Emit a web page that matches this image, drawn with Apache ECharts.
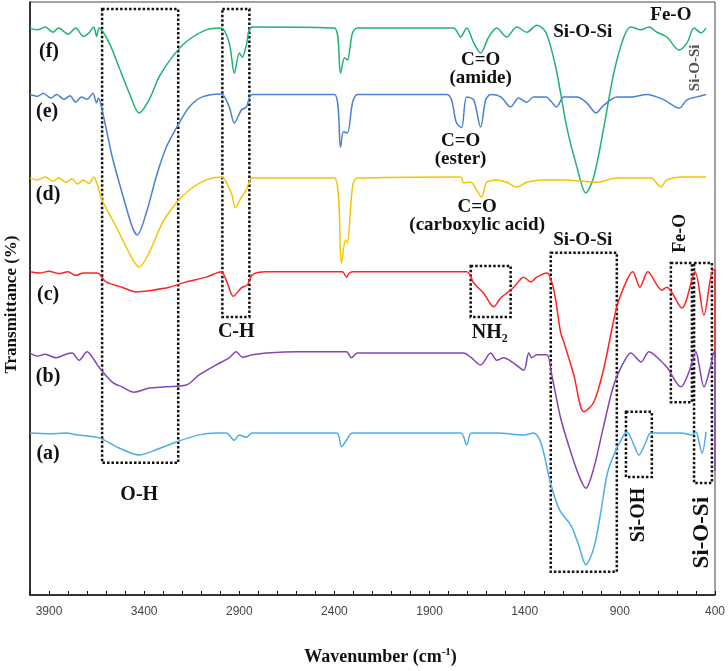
<!DOCTYPE html>
<html>
<head>
    <meta charset="UTF-8">
    <title>FTIR spectra</title>
    <script type="text/javascript" src="https://cdn.jsdelivr.net/npm/echarts@6/dist/echarts.min.js"></script>
    <style>
        html, body { margin: 0; padding: 0; background: #fff; }
        #main { width: 728px; height: 671px; }
    </style>
</head>
<body>
<div id="main"></div>
<script type="text/javascript">
    // spectra: [wavenumber, stacked transmittance]
    var traceF = [[4000,95.6],[3960,95.3],[3920,95.8],[3880,94.9],[3850,95.6],[3800,94.6],[3760,95.6],[3720,94.2],[3690,94.8],[3665,95.8],[3650,94.2],[3637,95.6],
        [3584,93.1],[3532,89.0],[3479,84.7],[3426,81.3],[3374,83.5],[3321,87.4],[3253,90.7],[3179,93.3],[3074,95.3],[2995,95.6],
        [2953,93.1],[2926,88.0],[2900,91.4],[2884,90.7],[2863,92.7],[2832,95.8],[2400,95.6],[2368,88.0],[2347,90.6],[2332,90.2],[2305,94.8],[2279,95.6],
        [1774,95.6],[1737,94.1],[1705,95.6],[1668,93.1],[1632,91.4],[1589,94.1],[1547,95.6],[1495,94.1],[1442,95.8],[1389,94.9],[1337,96.1],[1289,94.9],
        [1237,89.0],[1179,78.9],[1126,72.2],[1079,67.8],[1037,70.5],[984,78.9],[932,88.0],[879,94.1],[842,95.8],[789,95.3],[747,95.8],[705,94.9],
        [653,94.1],[589,91.9],[547,93.1],[510,95.6],[474,94.8],[447,95.6]];
    var traceE = [[4000,84.4],[3960,84.1],[3930,84.6],[3890,83.8],[3860,84.4],[3820,83.6],[3790,84.2],[3760,83.1],[3730,84.0],[3700,83.6],[3670,84.6],[3650,83.0],[3640,83.8],
        [3621,81.8],[3568,73.9],[3516,67.8],[3463,62.1],[3437,60.7],[3389,64.4],[3337,70.5],[3284,75.5],[3216,79.6],[3163,82.3],[3095,84.0],[2995,84.5],
        [2953,82.3],[2926,79.6],[2889,81.8],[2863,82.3],[2832,84.4],[2400,84.4],[2368,75.5],[2353,78.1],[2332,77.9],[2305,83.0],[2279,84.4],
        [1811,84.4],[1758,79.6],[1732,78.8],[1705,84.0],[1668,83.5],[1632,78.9],[1605,83.5],[1579,84.4],[1526,84.0],[1474,82.3],[1432,83.8],[1389,83.1],
        [1353,84.0],[1289,84.0],[1232,82.3],[1195,84.0],[1126,84.0],[1074,83.0],[1026,81.3],[984,82.6],[916,84.0],[842,84.0],[758,84.4],[668,83.5],
        [589,82.1],[547,83.5],[495,84.0],[447,84.4]];
    var traceD = [[4000,70.3],[3960,70.0],[3920,70.5],[3880,69.8],[3850,70.3],[3810,69.6],[3780,70.2],[3750,69.3],[3720,70.0],[3690,69.4],[3665,70.5],[3647,69.3],
        [3621,66.6],[3547,62.1],[3479,57.7],[3426,55.3],[3374,57.7],[3305,62.7],[3232,66.1],[3163,68.3],[3074,70.0],[2995,70.5],
        [2942,67.8],[2921,65.3],[2889,67.1],[2863,68.3],[2832,70.3],[2400,70.3],[2363,56.0],[2342,59.9],[2332,59.4],[2305,68.8],[2279,70.3],
        [1737,70.5],[1721,69.5],[1684,69.6],[1653,68.3],[1626,67.1],[1600,69.6],[1547,70.0],[1495,69.6],[1442,68.8],[1389,69.6],[1300,70.0],[1195,70.0],
        [1021,69.6],[916,70.3],[737,70.3],[684,68.8],[653,70.0],[563,70.5],[447,70.5]];
    var traceC = [[4000,54.5],[3950,54.3],[3900,54.6],[3850,54.2],[3800,54.5],[3760,53.9],[3720,54.3],[3647,54.3],[3600,52.8],[3516,51.9],[3442,51.1],
        [3358,51.4],[3268,51.9],[3179,52.8],[3074,53.6],[2995,54.5],[2963,52.6],[2932,50.4],[2889,51.8],[2858,52.3],[2832,54.0],[2758,54.5],
        [2358,54.5],[2337,53.6],[2321,54.3],[2300,54.5],[1705,54.5],[1668,52.6],[1616,50.9],[1563,48.6],[1526,50.1],[1495,50.9],[1458,51.9],
        [1405,53.6],[1368,52.8],[1337,53.6],[1284,54.3],[1247,51.4],[1211,44.2],[1195,42.7],[1142,37.1],[1089,30.9],[1037,32.5],[984,38.3],
        [916,48.6],[863,53.1],[832,54.5],[795,51.9],[753,54.5],[679,51.4],[653,51.9],[574,48.4],[505,54.5],[458,47.2],[411,54.8],[400,54.8],[400,40.0]];
    var traceB = [[4000,40.8],[3960,40.3],[3920,40.6],[3863,40.0],[3811,40.6],[3779,40.8],[3742,39.6],[3700,41.0],[3660,39.5],[3637,38.4],[3568,35.9],
        [3516,35.1],[3453,34.2],[3374,34.9],[3284,35.1],[3179,35.4],[3111,37.1],[3021,38.8],[2953,40.0],[2916,41.0],[2884,40.1],[2832,40.5],
        [2758,40.8],[2584,41.0],[2337,41.0],[2311,40.0],[2279,40.8],[1721,40.8],[1684,40.1],[1632,38.8],[1579,40.8],[1547,39.6],[1511,40.0],
        [1458,39.1],[1405,37.9],[1379,40.8],[1363,40.0],[1337,40.5],[1284,40.5],[1258,37.1],[1211,29.8],[1158,24.1],[1116,20.2],[1079,18.0],
        [1037,21.4],[984,28.7],[932,35.4],[879,39.3],[842,40.8],[789,39.3],[747,41.0],[705,40.1],[653,38.4],[579,35.1],[537,37.6],[500,41.0],
        [484,38.8],[458,35.1],[421,38.8],[405,41.0],[400,41.0],[400,20.9]];
    var traceA = [[4000,27.3],[3900,27.2],[3811,27.3],[3750,27.0],[3637,26.5],[3532,24.8],[3426,23.6],[3337,24.5],[3232,25.8],[3111,27.0],[3021,27.3],
        [2968,27.3],[2926,26.1],[2900,27.0],[2863,26.6],[2832,27.3],[2389,27.3],[2363,25.0],[2337,26.1],[2305,27.3],[1737,27.3],[1705,25.3],
        [1679,27.3],[1547,27.3],[1405,27.0],[1353,27.3],[1316,25.8],[1274,20.2],[1247,16.9],[1211,14.0],[1158,11.8],[1116,8.4],[1079,5.1],
        [1037,7.9],[1000,14.0],[968,20.2],[932,23.6],[879,27.0],[863,27.5],[826,25.3],[800,23.6],[763,25.8],[737,27.3],[579,27.3],[521,27.0],
        [500,27.5],[484,25.8],[468,23.9],[447,27.5]];

    var seriesNames = ['(f)', '(e)', '(d)', '(c)', '(b)', '(a)'];
    var seriesColors = ['#1fb46e', '#4a7fd4', '#f5c400', '#ff2424', '#8444b4', '#4aaee4'];
    var traces = [traceF, traceE, traceD, traceC, traceB, traceA];
    var majorTicks = [3900, 3400, 2900, 2400, 1900, 1400, 900, 400];

    // dotted boxes: [w1, v1, w2, v2]
    var boxes = [[3621, 98.8, 3221, 22.3], [2989, 98.8, 2847, 46.9], [1684, 55.5, 1474, 46.9],
        [1263, 57.7, 916, 3.9], [632, 56.0, 521, 32.5], [510, 56.0, 416, 18.9], [868, 30.9, 732, 19.9]];

    // annotations: text, wavenumber, value, font size, rotated
    var notes = [
        ['(f)', 3900, 91.6, 20, false], ['(e)', 3910, 81.5, 20, false], ['(d)', 3905, 67.5, 20, false],
        ['(c)', 3905, 50.6, 20, false], ['(b)', 3905, 36.8, 20, false], ['(a)', 3905, 23.8, 20, false],
        ['O-H', 3426, 16.9, 20, false], ['C-H', 2916, 44.3, 20, false], ['NH\u2082', 1584, 44.2, 20, false],
        ['C=O\n(amide)', 1632, 88.7, 19, false], ['C=O\n(ester)', 1737, 75.0, 19, false],
        ['C=O\n(carboxylic acid)', 1650, 63.9, 19, false],
        ['Si-O-Si', 1095, 94.9, 19, false], ['Fe-O', 632, 97.8, 19, false], ['Si-O-Si', 505, 88.9, 15, true],
        ['Si-O-Si', 1095, 59.9, 19, false], ['Fe-O', 584, 61.0, 18, true], ['Si-OH', 800, 13.5, 20, true],
        ['Si-O-Si', 468, 10.5, 23, true]
    ];

    var myChart = echarts.init(document.getElementById('main'));

    var series = traces.map(function (d, i) {
        return {
            name: seriesNames[i],
            type: 'line',
            data: d,
            showSymbol: false,
            smooth: 0.3,
            lineStyle: {color: seriesColors[i], width: 1.5},
            itemStyle: {color: seriesColors[i]},
            z: 3
        };
    });
    series.push({
        type: 'line',
        data: [],
        markArea: {
            silent: true,
            itemStyle: {color: 'rgba(0,0,0,0)', borderColor: '#111', borderWidth: 2.5, borderType: [2.5, 2]},
            data: boxes.map(function (b) {
                return [{coord: [b[0], b[1]]}, {coord: [b[2], b[3]]}];
            })
        },
        z: 4
    });

    myChart.setOption({
        animation: false,
        grid: {left: 30, right: 13, top: 2, bottom: 76, outerBoundsMode: 'none', show: true, borderColor: '#444', borderWidth: 1},
        xAxis: {
            type: 'value',
            min: 400,
            max: 4000,
            interval: 100,
            inverse: true,
            name: '{t|Wavenumber (cm}{s|-1}{t|)}',
            nameLocation: 'middle',
            nameGap: 52,
            nameTextStyle: {
                padding: [0, 0, 0, 16],
                rich: {
                    t: {fontFamily: 'Liberation Serif', fontWeight: 'bold', fontSize: 18, color: '#111'},
                    s: {fontFamily: 'Liberation Serif', fontWeight: 'bold', fontSize: 11, color: '#111', padding: [0, 0, 9, 0]}
                }
            },
            axisLine: {lineStyle: {color: '#111', width: 1.5}},
            axisTick: {inside: true, length: 4, lineStyle: {color: '#111'}},
            axisLabel: {
                margin: 11,
                color: '#444',
                fontSize: 12,
                fontFamily: 'Liberation Sans',
                formatter: function (v) { return majorTicks.indexOf(v) >= 0 ? String(v) : ''; }
            },
            splitLine: {show: false}
        },
        yAxis: {
            type: 'value',
            min: 0,
            max: 100,
            name: 'Transmittance (%)',
            nameLocation: 'middle',
            nameGap: 10,
            nameTextStyle: {fontFamily: 'Liberation Serif', fontWeight: 'bold', fontSize: 17, color: '#111', padding: [0, 12, 0, 0]},
            axisLine: {show: true, lineStyle: {color: '#111', width: 1.5}},
            axisTick: {show: false},
            axisLabel: {show: false},
            splitLine: {show: false}
        },
        series: series
    });

    // place the annotation texts at their data positions
    var texts = notes.map(function (n) {
        var p = myChart.convertToPixel({gridIndex: 0}, [n[1], n[2]]);
        return {
            type: 'text',
            x: p[0],
            y: p[1],
            rotation: n[4] ? Math.PI / 2 : 0,
            z: 10,
            style: {
                text: n[0],
                fill: n[3] < 16 ? '#555' : '#111',
                font: 'bold ' + n[3] + 'px "Liberation Serif"',
                align: 'center',
                verticalAlign: 'middle',
                lineHeight: 18
            }
        };
    });
    myChart.setOption({graphic: texts});
</script>
</body>
</html>
